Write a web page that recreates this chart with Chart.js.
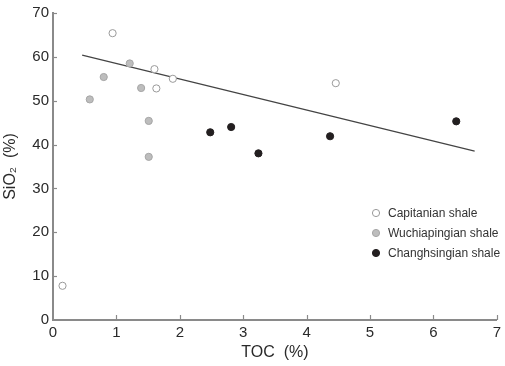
<!DOCTYPE html>
<html>
<head>
<meta charset="utf-8">
<script src="https://cdn.jsdelivr.net/npm/chart.js@4/dist/chart.umd.min.js"></script>
<style>
html,body{margin:0;padding:0;background:#fff;}
#wrap{width:505px;height:366px;}
</style>
</head>
<body>
<div id="wrap"><canvas id="c" width="505" height="366"></canvas></div>
<script>
const seriesNames = ["Capitanian shale", "Wuchiapingian shale", "Changhsingian shale"];
const capitanianTOC = [0.94, 1.60, 1.89, 1.63, 4.46, 0.15];
const capitanianSiO2 = [65.4, 57.2, 55.0, 52.8, 54.0, 7.8];
const wuchiapingianTOC = [0.58, 0.80, 1.21, 1.39, 1.51, 1.51];
const wuchiapingianSiO2 = [50.3, 55.4, 58.5, 52.9, 45.4, 37.2];
const changhsingianTOC = [2.48, 2.81, 3.24, 4.37, 6.36];
const changhsingianSiO2 = [42.8, 44.0, 38.0, 41.9, 45.3];
const trendTOC = [0.46, 6.65];
const trendSiO2 = [60.4, 38.5];
const xTicks = [0, 1, 2, 3, 4, 5, 6, 7];
const yTicks = [0, 10, 20, 30, 40, 50, 60, 70];

const pts = (xs, ys) => xs.map((x, i) => ({x: x, y: ys[i]}));

const FONT = "'Liberation Sans', Arial, Helvetica, sans-serif";

const inwardTicks = {
  id: 'inwardTicks',
  afterDatasetsDraw(chart) {
    const ctx = chart.ctx;
    const xs = chart.scales.x, ys = chart.scales.y;
    const a = chart.chartArea;
    ctx.save();
    ctx.strokeStyle = '#8a8a8a';
    ctx.lineWidth = 1.2;
    xTicks.forEach(v => {
      if (v === 0) return;
      const px = Math.round(xs.getPixelForValue(v)) + 0.5;
      ctx.beginPath();
      ctx.moveTo(px, a.bottom);
      ctx.lineTo(px, a.bottom - 5);
      ctx.stroke();
    });
    yTicks.forEach(v => {
      if (v === 0) return;
      const py = Math.round(ys.getPixelForValue(v)) + 0.5;
      ctx.beginPath();
      ctx.moveTo(a.left, py);
      ctx.lineTo(a.left + 4, py);
      ctx.stroke();
    });
    ctx.restore();
  }
};

const customLegend = {
  id: 'customLegend',
  afterDraw(chart) {
    const ctx = chart.ctx;
    ctx.save();
    ctx.font = '12px ' + FONT;
    ctx.textBaseline = 'middle';
    ctx.textAlign = 'left';
    const x0 = 376, y0 = 213, dy = 20;
    for (let i = 0; i < 3; i++) {
      const ds = chart.data.datasets[i];
      const y = y0 + i * dy;
      ctx.beginPath();
      ctx.arc(x0, y, 3.6, 0, Math.PI * 2);
      ctx.fillStyle = ds.backgroundColor;
      ctx.fill();
      ctx.lineWidth = 1;
      ctx.strokeStyle = ds.borderColor;
      ctx.stroke();
      ctx.fillStyle = '#333';
      ctx.fillText(ds.label, x0 + 12, y + 1);
    }
    ctx.restore();
  }
};

new Chart(document.getElementById('c'), {
  type: 'scatter',
  data: {
    datasets: [
      {label: seriesNames[0], data: pts(capitanianTOC, capitanianSiO2), backgroundColor: '#ffffff', borderColor: '#9a9a9a', borderWidth: 1, pointRadius: 3.6},
      {label: seriesNames[1], data: pts(wuchiapingianTOC, wuchiapingianSiO2), backgroundColor: '#bdbdbd', borderColor: '#a6a6a6', borderWidth: 1, pointRadius: 3.6},
      {label: seriesNames[2], data: pts(changhsingianTOC, changhsingianSiO2), backgroundColor: '#231f20', borderColor: '#231f20', borderWidth: 1, pointRadius: 3.6},
      {type: 'line', label: 'trend', data: pts(trendTOC, trendSiO2), borderColor: '#444444', borderWidth: 1.2, pointRadius: 0, fill: false, showLine: true, order: 10}
    ]
  },
  options: {
    responsive: false,
    animation: false,
    layout: {padding: {top: 9, right: 7, left: 0, bottom: 0}},
    plugins: {legend: {display: false}, tooltip: {enabled: false}},
    scales: {
      x: {
        type: 'linear', min: 0, max: 7,
        afterFit: s => { s.height = 46; },
        afterBuildTicks: s => { s.ticks = xTicks.map(v => ({value: v})); },
        grid: {display: false, drawTicks: false},
        border: {display: true, color: '#8a8a8a', width: 2},
        ticks: {padding: 4, color: '#2a2a2a', font: {family: FONT, size: 15}, maxRotation: 0},
        title: {display: true, text: 'TOC\u00a0\u00a0(%)', color: '#2a2a2a', font: {family: FONT, size: 16}, padding: {top: 0, bottom: 4}}
      },
      y: {
        type: 'linear', min: 0, max: 70,
        afterFit: s => { s.width = 53; },
        afterBuildTicks: s => { s.ticks = yTicks.map(v => ({value: v})); },
        grid: {display: false, drawTicks: false},
        border: {display: true, color: '#8a8a8a', width: 2},
        ticks: {padding: 4, color: '#2a2a2a', font: {family: FONT, size: 15}},
        title: {display: true, text: 'SiO\u2082\u00a0\u00a0(%)', color: '#2a2a2a', font: {family: FONT, size: 16}, padding: {top: 1, bottom: 0}}
      }
    }
  },
  plugins: [inwardTicks, customLegend]
});
</script>
</body>
</html>
